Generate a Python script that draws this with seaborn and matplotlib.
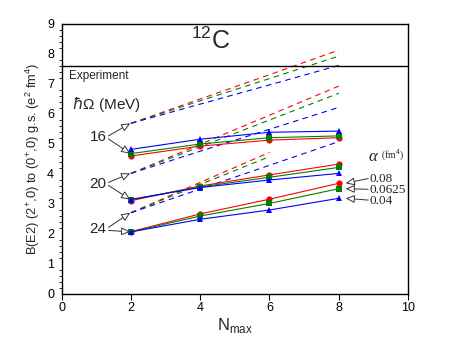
import matplotlib
matplotlib.use("Agg")
import matplotlib.pyplot as plt
import seaborn as sns
import numpy as np

sns.set_theme(style="white")
plt.rcParams['font.family'] = ['Liberation Sans', 'DejaVu Sans']
plt.rcParams['mathtext.fontset'] = 'custom'
plt.rcParams['mathtext.rm'] = 'Liberation Sans'

nmax = [2, 4, 6, 8]
# solid (computed) results, keyed by hbar-Omega then alpha
solid_16_008 = [4.60, 4.93, 5.13, 5.21]
solid_16_0625 = [4.68, 5.00, 5.21, 5.27]
solid_16_004 = [4.82, 5.16, 5.39, 5.43]
solid_20_008 = [3.11, 3.60, 3.97, 4.33]
solid_20_0625 = [3.15, 3.57, 3.89, 4.22]
solid_20_004 = [3.15, 3.55, 3.80, 4.02]
solid_24_008 = [2.08, 2.67, 3.16, 3.69]
solid_24_0625 = [2.07, 2.60, 3.02, 3.51]
solid_24_004 = [2.07, 2.49, 2.80, 3.19]

# dashed extrapolations
dash_16_008 = [5.69, 6.50, 7.31, 8.13]
dash_16_0625 = [5.69, 6.44, 7.18, 7.93]
dash_16_004 = [5.69, 6.33, 6.97, 7.62]
dash_20_008 = [4.02, 4.99, 5.96, 6.93]
dash_20_0625 = [4.02, 4.91, 5.80, 6.69]
dash_20_004 = [4.02, 4.76, 5.49, 6.22]
nmax_short = [2, 4, 6]
dash_24_008 = [2.71, 3.72, 4.72]
dash_24_0625 = [2.71, 3.65, 4.58]
dash_24_004 = [2.71, 3.50, 4.29, 5.08]

experiment = 7.6
hw_labels = ["16", "20", "24"]
alpha_labels = ["0.08", "0.0625", "0.04"]

red, green, blue = "#ff0000", "#008000", "#0000ff"

fig = plt.figure(figsize=(4.49, 3.47), dpi=100)
ax = fig.add_axes([61.7/449, 1-294/347, (408-61.7)/449, (294-24)/347])

dashed = [
    (nmax, dash_16_008, red), (nmax, dash_16_0625, green), (nmax, dash_16_004, blue),
    (nmax, dash_20_008, red), (nmax, dash_20_0625, green), (nmax, dash_20_004, blue),
    (nmax_short, dash_24_008, red), (nmax_short, dash_24_0625, green), (nmax, dash_24_004, blue),
]
for xs, ys, c in dashed:
    sns.lineplot(x=xs, y=ys, ax=ax, color=c, lw=0.8, linestyle=(0, (5, 4)))

solid = [
    (solid_16_008, red, 'o'), (solid_16_0625, green, 's'), (solid_16_004, blue, '^'),
    (solid_20_008, red, 'o'), (solid_20_0625, green, 's'), (solid_20_004, blue, '^'),
    (solid_24_008, red, 'o'), (solid_24_0625, green, 's'), (solid_24_004, blue, '^'),
]
for ys, c, m in solid:
    sns.lineplot(x=nmax, y=ys, ax=ax, color=c, lw=0.8, marker=m, markersize=4.5,
                 markeredgewidth=0, markeredgecolor=c)

ax.axhline(experiment, color="black", lw=1.0)
ax.text(0.22, experiment - 0.12, "Experiment", fontsize=8.5, va="top", ha="left")
ax.text(4.3, 8.45, r"$^{12}$C", fontsize=18, ha="center", va="center")
ax.text(0.3, 6.33, r"$\hbar\Omega$ (MeV)", fontsize=11, ha="left", va="center")

arrow_kw = dict(arrowstyle="-|>,head_length=0.45,head_width=0.2", color="#333333",
                lw=0.7, fc="white", shrinkA=0, shrinkB=0)
starts = [(dash_16_004[0], solid_16_0625[0], 5.22),
          (dash_20_004[0], solid_20_0625[0], 3.67),
          (dash_24_004[0], solid_24_0625[0], 2.17)]
for lab, (yd, ys, yt) in zip(hw_labels, starts):
    ax.text(1.3, yt, lab, fontsize=11, ha="right", va="center")
    ax.annotate("", xy=(1.98, yd), xytext=(1.35, yt + 0.05), arrowprops=arrow_kw)
    ax.annotate("", xy=(1.98, ys), xytext=(1.35, yt - 0.05), arrowprops=arrow_kw)

serif = ['Liberation Serif', 'DejaVu Serif']
ax.text(8.85, 4.57, "α", fontsize=12, style="italic", ha="left", va="center", family=serif)
ax.text(9.22, 4.62, "(fm$^4$)", fontsize=7, ha="left", va="center", family=serif)
ends = [solid_24_008[-1], solid_24_0625[-1], solid_24_004[-1]]
text_y = [3.83, 3.47, 3.11]
for lab, ye, yt in zip(alpha_labels, ends, text_y):
    ax.text(8.9, yt, lab, fontsize=9.5, ha="left", va="center", family=serif)
    ax.annotate("", xy=(8.2, ye), xytext=(8.85, yt + 0.02), arrowprops=arrow_kw)

ax.set_xlim(0, 10)
ax.set_ylim(0, 9)
ax.set_xticks([0, 2, 4, 6, 8, 10])
ax.set_yticks(range(10))
ax.set_yticks(np.arange(0, 9.01, 0.2), minor=True)
ax.tick_params(axis="both", which="major", direction="out", length=4, width=0.8,
               labelsize=9, pad=1.5, colors="black")
ax.tick_params(axis="y", which="minor", direction="out", length=2.5, width=0.7, left=True)
ax.tick_params(axis="x", which="both", bottom=True)
ax.set_xlabel("N$_{\\mathrm{max}}$", fontsize=12, labelpad=2)
ax.set_ylabel("B(E2) (2$^{+}$,0) to (0$^{+}$,0) g.s. (e$^{2}$ fm$^{4}$)", fontsize=9.3, labelpad=4)
for s in ax.spines.values():
    s.set_color("black")
    s.set_linewidth(1.0)
ax.grid(False)
fig.savefig("out.png", dpi=100)
